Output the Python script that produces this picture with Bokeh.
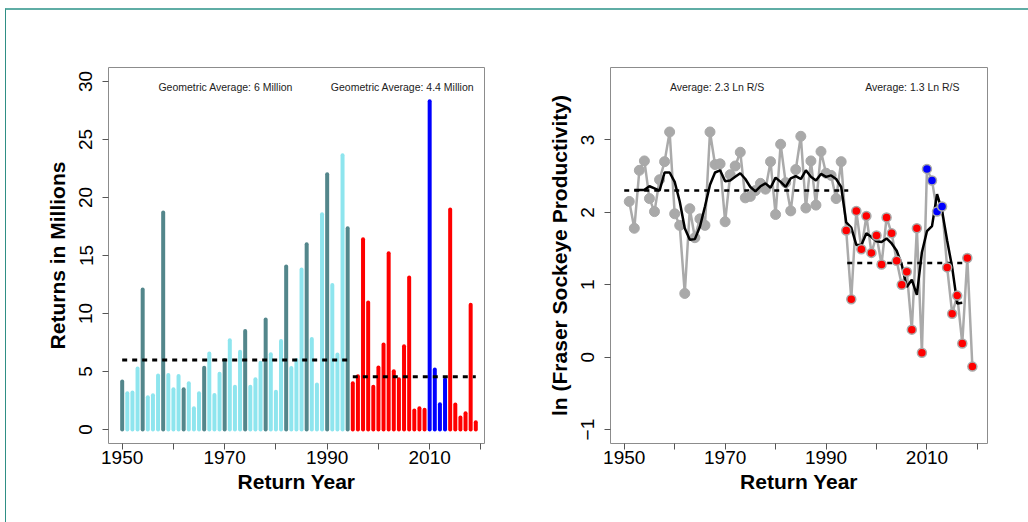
from bokeh.plotting import figure
from bokeh.models import FixedTicker, ColumnDataSource
from bokeh.layouts import row
from bokeh.embed import file_html
from bokeh.resources import INLINE
from bokeh.core.properties import value

# ---------------- data ----------------
return_years = list(range(1950, 2020))
returns_millions = [4.14, 3.13, 3.19, 5.26, 12.06, 2.79, 2.96, 4.65, 18.7, 4.71,
                    3.48, 4.62, 3.48, 3.99, 1.84, 3.13, 5.32, 6.55, 2.99, 4.8,
                    6.0, 7.7, 3.68, 6.7, 8.5, 3.68, 4.34, 5.75, 9.48, 6.49,
                    3.25, 7.64, 14.05, 5.3, 6.0, 13.8, 15.97, 7.8, 3.88, 18.55,
                    22.0, 12.46, 6.46, 23.63, 17.34, 3.99, 4.6, 16.4, 10.95, 3.7,
                    5.34, 7.33, 15.2, 5.03, 4.34, 7.18, 13.1, 1.64, 1.84, 1.70,
                    28.3, 5.17, 2.18, 4.31, 18.97, 2.15, 1.03, 1.41, 10.75, 0.63]

geo_avg_values = [6.0, 4.55]
geo_avg_periods = [(1950, 1994), (1995, 2019)]
geo_avg_labels = ["Geometric Average: 6 Million", "Geometric Average: 4.4 Million"]

prod_years = list(range(1951, 2020))
ln_rs = [2.15, 1.78, 2.58, 2.71, 2.19, 2.01, 2.45, 2.70, 3.11, 1.98,
         1.82, 0.88, 2.05, 1.65, 1.91, 1.82, 3.11, 2.66, 2.67, 1.87,
         2.52, 2.64, 2.83, 2.20, 2.22, 2.30, 2.40, 2.32, 2.70, 1.97,
         2.94, 2.41, 2.02, 2.59, 3.05, 2.06, 2.71, 2.10, 2.84, 2.54,
         2.51, 2.19, 2.70, 1.75, 0.80, 2.02, 1.49, 1.95, 1.44, 1.68,
         1.28, 1.93, 1.71, 1.33, 1.00, 1.18, 0.38, 1.78, 0.06, 2.60,
         2.44, 2.01, 2.08, 1.24, 0.60, 0.85, 0.19, 1.37, -0.13]

smooth_years = list(range(1952, 2018))
smooth_ln_rs = [2.31, 2.31, 2.31, 2.36, 2.33, 2.30, 2.55, 2.55, 2.42, 2.15,
                1.78, 1.62, 1.63, 1.80, 2.08, 2.38, 2.55, 2.58, 2.43, 2.44,
                2.49, 2.54, 2.46, 2.35, 2.29, 2.36, 2.40, 2.34, 2.48, 2.42,
                2.35, 2.47, 2.50, 2.46, 2.58, 2.49, 2.44, 2.53, 2.49, 2.51,
                2.46, 2.35, 1.86, 1.79, 1.55, 1.55, 1.71, 1.66, 1.60, 1.59,
                1.64, 1.57, 1.47, 1.28, 0.97, 1.07, 0.86, 1.45, 1.74, 1.81,
                2.25, 2.02, 1.61, 1.24, 0.74, 0.75]

avg_values = [2.3, 1.3]
avg_periods = [(1950, 1994.4), (1994.2, 2018)]
avg_labels = ["Average: 2.3 Ln R/S", "Average: 1.3 Ln R/S"]

x_ticks = [1950, 1960, 1970, 1980, 1990, 2000, 2010, 2020]
x_tick_labels = {1960: "", 1980: "", 2000: "", 2020: ""}

DARK, LIGHT, RED, BLUE = "#53868B", "#8EE5EE", "#FF0000", "#0000FF"


def bar_color(y):
    if 2010 <= y <= 2013:
        return BLUE
    if y >= 1995:
        return RED
    return DARK if (y - 1950) % 4 == 0 else LIGHT


def point_color(y):
    if 2010 <= y <= 2013:
        return BLUE
    if y >= 1994:
        return RED
    return "#A9A9A9"


FONT = "Liberation Sans"


def style(p, yticks):
    p.grid.visible = False
    p.outline_line_color = "#8c8c8c"
    p.outline_line_width = 1
    p.background_fill_color = "white"
    p.border_fill_color = "white"
    for ax in p.axis:
        ax.axis_line_color = None
        ax.major_tick_out = 6
        ax.major_tick_in = 0
        ax.minor_tick_out = 0
        ax.minor_tick_in = 0
        ax.major_tick_line_color = "#555555"
        ax.major_label_text_font = FONT
        ax.major_label_text_font_size = "19px"
        ax.major_label_text_color = "black"
        ax.axis_label_text_font = FONT
        ax.axis_label_text_font_size = "21px"
        ax.axis_label_text_font_style = "bold"
        ax.axis_label_text_color = "black"
    p.xaxis.ticker = FixedTicker(ticks=x_ticks)
    p.xaxis.major_label_overrides = x_tick_labels
    p.xaxis.major_label_standoff = 1
    p.xaxis.axis_label_standoff = 3
    p.xaxis.axis_label = "Return Year"
    p.yaxis.ticker = FixedTicker(ticks=yticks)
    p.yaxis.major_label_orientation = "vertical"
    p.yaxis.major_label_standoff = 10
    p.yaxis.axis_label_standoff = 8


# ---------------- left: returns ----------------
p1 = figure(frame_width=376, frame_height=376,
            x_range=(1947.33, 2020.7), y_range=(-1.2, 31.2),
            min_border_left=102, min_border_right=60,
            min_border_top=57, min_border_bottom=79,
            output_backend="svg", toolbar_location=None)
style(p1, [0, 5, 10, 15, 20, 25, 30])
p1.yaxis.axis_label = "Returns in Millions"

src1 = ColumnDataSource(dict(x=return_years, y=returns_millions,
                             y0=[0] * len(return_years),
                             c=[bar_color(y) for y in return_years]))
p1.segment(x0="x", y0="y0", x1="x", y1="y", source=src1, line_color="c",
           line_width=4, line_cap="round")
for (a, b), v in zip(geo_avg_periods, geo_avg_values):
    p1.line([a, b], [v, v], line_color="black", line_width=3, line_dash="5 5")
p1.text(x=[1970.2, 2004.7], y=[29.5, 29.5], text=geo_avg_labels,
        text_font=value(FONT), text_font_size="10.5px", text_color="#222222",
        text_align="center", text_baseline="middle")

# ---------------- right: productivity ----------------
p2 = figure(frame_width=377, frame_height=376,
            x_range=(1947.28, 2022.0), y_range=(-1.192, 4.0),
            min_border_left=65, min_border_right=42,
            min_border_top=57, min_border_bottom=79,
            output_backend="svg", toolbar_location=None)
style(p2, [-1, 0, 1, 2, 3])
p2.yaxis.axis_label = "ln (Fraser Sockeye Productivity)"

p2.line(prod_years, ln_rs, line_color="#AAAAAA", line_width=2.5)
for (a, b), v in zip(avg_periods, avg_values):
    p2.line([a, b], [v, v], line_color="black", line_width=2.5, line_dash="5 5")
gray_idx = [i for i, y in enumerate(prod_years) if point_color(y) == "#A9A9A9"]
col_idx = [i for i, y in enumerate(prod_years) if point_color(y) != "#A9A9A9"]
p2.scatter([prod_years[i] for i in gray_idx], [ln_rs[i] for i in gray_idx],
           size=10, fill_color="#A9A9A9", line_color="#A9A9A9")
p2.line(smooth_years, smooth_ln_rs, line_color="black", line_width=2.5)
p2.scatter([prod_years[i] for i in col_idx], [ln_rs[i] for i in col_idx],
           size=9, fill_color=[point_color(prod_years[i]) for i in col_idx],
           line_color="#A9A9A9", line_width=1.5)
p2.text(x=[1968.4, 2007.1], y=[3.725, 3.725], text=avg_labels,
        text_font=value(FONT), text_font_size="10.5px", text_color="#222222",
        text_align="center", text_baseline="middle")

layout = row(p1, p2, styles={"border-top": "2px solid #5FADA5",
                             "border-left": "1px solid #2F8F85",
                             "margin-left": "5px", "margin-top": "8px"})

open("out.html", "w").write(file_html(layout, INLINE))
